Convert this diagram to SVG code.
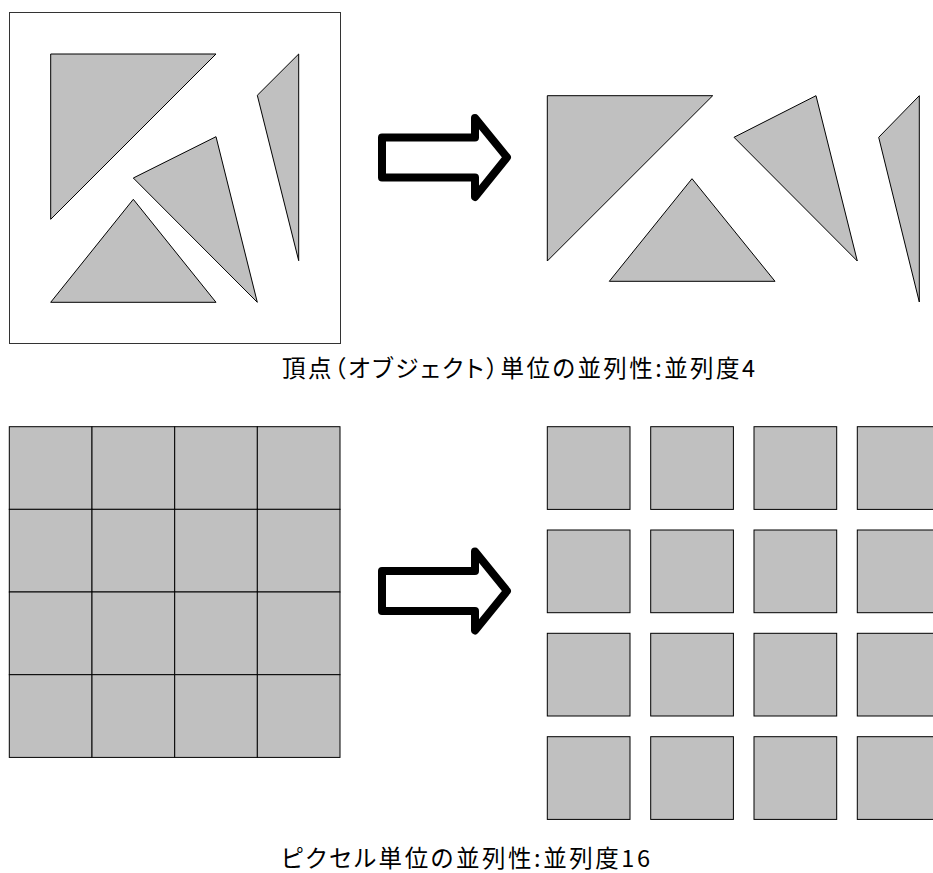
<svg xmlns="http://www.w3.org/2000/svg" width="933" height="873" viewBox="0 0 933 873">
<style>
.tri{fill:#c0c0c0;stroke:#000;stroke-width:1;stroke-linejoin:miter}
.cell{fill:#c0c0c0;stroke:#000;stroke-width:1}
.frame{fill:#fff;stroke:#333;stroke-width:1}
.arrow{fill:#fff;stroke:#000;stroke-width:8;stroke-linejoin:round}
.cap{font-family:"Noto Sans CJK JP","Noto Sans",sans-serif;font-size:23.5px;fill:#000;font-feature-settings:"palt" 1}
</style>
<rect width="933" height="873" fill="#fff"/>
<g id="vertex-source">
<rect class="frame" x="9.5" y="12.5" width="331" height="331"/>
<polygon class="tri" points="50.7,54 216,54 50.7,219.3"/>
<polygon class="tri" points="50.7,302.3 133.3,199.3 216,302.3"/>
<polygon class="tri" points="133.3,178 216,136.7 257.3,302.3"/>
<polygon class="tri" points="257.3,95.3 298.7,54 298.7,260.7"/>
</g>
<g id="vertex-result">
<polygon class="tri" points="547.3,95.7 712.7,95.7 547.3,261"/>
<polygon class="tri" points="609.3,281.3 692,178.7 775,281.3"/>
<polygon class="tri" points="734,137.3 816,95.7 857.3,261"/>
<polygon class="tri" points="878.7,137.3 919.3,95.7 919.3,302"/>
</g>
<g id="connectors">
<path class="arrow" d="M382,137.5 L475,137.5 L475,118 L507,157.3 L475,197 L475,177.5 L382,177.5 Z"/>
<path class="arrow" d="M382,571 L475,571 L475,551.5 L507,591 L475,630.5 L475,611 L382,611 Z"/>
</g>
<g id="pixel-source">
<rect class="cell" x="9.3" y="426.7" width="82.7" height="82.7"/>
<rect class="cell" x="92" y="426.7" width="82.7" height="82.7"/>
<rect class="cell" x="174.7" y="426.7" width="82.7" height="82.7"/>
<rect class="cell" x="257.3" y="426.7" width="82.7" height="82.7"/>
<rect class="cell" x="9.3" y="509.3" width="82.7" height="82.7"/>
<rect class="cell" x="92" y="509.3" width="82.7" height="82.7"/>
<rect class="cell" x="174.7" y="509.3" width="82.7" height="82.7"/>
<rect class="cell" x="257.3" y="509.3" width="82.7" height="82.7"/>
<rect class="cell" x="9.3" y="592" width="82.7" height="82.7"/>
<rect class="cell" x="92" y="592" width="82.7" height="82.7"/>
<rect class="cell" x="174.7" y="592" width="82.7" height="82.7"/>
<rect class="cell" x="257.3" y="592" width="82.7" height="82.7"/>
<rect class="cell" x="9.3" y="674.7" width="82.7" height="82.7"/>
<rect class="cell" x="92" y="674.7" width="82.7" height="82.7"/>
<rect class="cell" x="174.7" y="674.7" width="82.7" height="82.7"/>
<rect class="cell" x="257.3" y="674.7" width="82.7" height="82.7"/>
</g>
<g id="pixel-result">
<rect class="cell" x="547.3" y="426.7" width="82.7" height="82.7"/>
<rect class="cell" x="650.7" y="426.7" width="82.7" height="82.7"/>
<rect class="cell" x="754" y="426.7" width="82.7" height="82.7"/>
<rect class="cell" x="857.3" y="426.7" width="82.7" height="82.7"/>
<rect class="cell" x="547.3" y="530" width="82.7" height="82.7"/>
<rect class="cell" x="650.7" y="530" width="82.7" height="82.7"/>
<rect class="cell" x="754" y="530" width="82.7" height="82.7"/>
<rect class="cell" x="857.3" y="530" width="82.7" height="82.7"/>
<rect class="cell" x="547.3" y="633.3" width="82.7" height="82.7"/>
<rect class="cell" x="650.7" y="633.3" width="82.7" height="82.7"/>
<rect class="cell" x="754" y="633.3" width="82.7" height="82.7"/>
<rect class="cell" x="857.3" y="633.3" width="82.7" height="82.7"/>
<rect class="cell" x="547.3" y="736.7" width="82.7" height="82.7"/>
<rect class="cell" x="650.7" y="736.7" width="82.7" height="82.7"/>
<rect class="cell" x="754" y="736.7" width="82.7" height="82.7"/>
<rect class="cell" x="857.3" y="736.7" width="82.7" height="82.7"/>
</g>
<g id="caption-vertex">
<text class="cap" x="282" y="377" textLength="473" lengthAdjust="spacing">頂点（オブジェクト）単位の並列性:並列度4</text>
</g>
<g id="caption-pixel">
<text class="cap" x="281" y="867" textLength="369" lengthAdjust="spacing">ピクセル単位の並列性:並列度16</text>
</g>
</svg>
